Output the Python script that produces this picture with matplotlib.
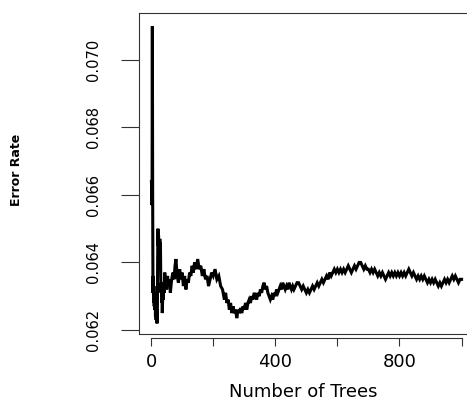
import matplotlib
matplotlib.use("Agg")
import matplotlib.pyplot as plt

# error rate vs number of trees
trees = [1, 2, 3, 4, 5, 6, 7, 8, 9, 10, 11, 12, 13, 14, 15, 16, 17, 18, 19, 20,
         21, 22, 23, 24, 25, 26, 27, 28, 29, 30, 31, 32, 33, 34, 35, 36, 37, 38, 39, 40,
         42, 44, 46, 48, 50, 53, 56, 59, 62, 65, 68, 71, 74, 77, 80, 84, 88, 92, 96, 100,
         104, 108, 112, 116, 120, 124, 128, 132, 136, 140, 145, 150, 155, 160, 165, 170,
         175, 180, 185, 190, 195, 200, 206, 212, 218, 224, 230, 236, 240, 244, 248, 252,
         256, 260, 264, 268, 272, 276, 280, 284, 288, 292, 296, 300, 304, 308, 312, 316,
         320, 324, 328, 332, 336, 340, 344, 348, 352, 356, 360, 364, 368, 372, 376, 380,
         384, 388, 392, 396, 400, 404, 408, 412, 416, 420, 424, 428, 432, 436, 440, 444,
         448, 452, 456, 460, 465, 470, 475, 480, 485, 490, 495, 500, 505, 510, 515, 520,
         525, 530, 535, 540, 545, 550, 555, 560, 565, 570, 575, 580, 585, 590, 595, 600,
         605, 610, 615, 620, 625, 630, 635, 640, 645, 650, 655, 660, 665, 670, 675, 680,
         685, 690, 695, 700, 705, 710, 715, 720, 725, 730, 735, 740, 745, 750, 755, 760,
         765, 770, 775, 780, 785, 790, 795, 800, 805, 810, 815, 820, 825, 830, 835, 840,
         845, 850, 855, 860, 865, 870, 875, 880, 885, 890, 895, 900, 905, 910, 915, 920,
         925, 930, 935, 940, 945, 950, 955, 960, 965, 970, 975, 980, 985, 990, 995, 1000]

err = [0.0664, 0.0661, 0.0657, 0.0710, 0.0660, 0.0631, 0.0636, 0.0628, 0.0633, 0.0627,
       0.0631, 0.0626, 0.0630, 0.0624, 0.0628, 0.0623, 0.0627, 0.0622, 0.0626, 0.0622,
       0.0640, 0.0650, 0.0645, 0.0648, 0.0638, 0.0646, 0.0640, 0.0647, 0.0642, 0.0646,
       0.0636, 0.0631, 0.0634, 0.0628, 0.0630, 0.0625, 0.0628, 0.0632, 0.0629, 0.0634,
       0.0631, 0.0637, 0.0633, 0.0635, 0.0632, 0.0636, 0.0633, 0.0635, 0.0631, 0.0634,
       0.0636, 0.0637, 0.0635, 0.0639, 0.0641, 0.0636, 0.0634, 0.0638, 0.0635, 0.0637,
       0.0633, 0.0636, 0.0632, 0.0635, 0.0634, 0.0637, 0.0636, 0.0639, 0.0637, 0.0640,
       0.0638, 0.0641, 0.0638, 0.0639, 0.0636, 0.0638, 0.0635, 0.0636, 0.0633, 0.0635,
       0.0637, 0.0636, 0.0638, 0.0635, 0.0636, 0.0633, 0.0632, 0.0629, 0.0631, 0.0628,
       0.0629, 0.0626, 0.0628, 0.0625, 0.0627, 0.0625, 0.0626, 0.06235, 0.0626, 0.0625,
       0.06265, 0.0625, 0.0627, 0.0626, 0.0628, 0.0626, 0.0628, 0.0629, 0.0628, 0.0630,
       0.0629, 0.0631, 0.0630, 0.0629, 0.0631, 0.0630, 0.0632, 0.0631, 0.0633, 0.0634,
       0.0632, 0.0633, 0.0631, 0.0630, 0.0629, 0.0630, 0.0629, 0.0631, 0.0630, 0.0632,
       0.0631, 0.0632, 0.0633, 0.0632, 0.0634, 0.0633, 0.0632, 0.0633, 0.0632, 0.0634,
       0.0633, 0.0632, 0.0633, 0.0632, 0.0633, 0.0634, 0.0634, 0.0633, 0.0632, 0.0633,
       0.0632, 0.0631, 0.0632, 0.0631, 0.0632, 0.0633, 0.0632, 0.0633, 0.0634, 0.0633,
       0.0634, 0.0635, 0.0634, 0.0635, 0.0636, 0.0635, 0.0637, 0.0636, 0.0637, 0.0638,
       0.0637, 0.0638, 0.0637, 0.0638, 0.0637, 0.0638, 0.0637, 0.0638, 0.0639, 0.0638,
       0.0637, 0.0638, 0.0639, 0.0638, 0.0639, 0.0640, 0.0640, 0.0639, 0.0638, 0.0639,
       0.0638, 0.0638, 0.0637, 0.0638, 0.0637, 0.0638, 0.0637, 0.0636, 0.0637, 0.0636,
       0.0637, 0.0636, 0.0635, 0.0636, 0.0637, 0.0636, 0.0637, 0.0636, 0.0637, 0.0636,
       0.0637, 0.0636, 0.0637, 0.0636, 0.0637, 0.0636, 0.0637, 0.0638, 0.0637, 0.0636,
       0.0637, 0.0636, 0.0635, 0.0636, 0.0635, 0.0636, 0.0635, 0.0636, 0.0635, 0.0634,
       0.0635, 0.0634, 0.0635, 0.0634, 0.0635, 0.0634, 0.0633, 0.0634, 0.0633, 0.0634,
       0.0635, 0.0634, 0.0635, 0.0634, 0.0635, 0.0636, 0.0635, 0.0636, 0.0635, 0.0634,
       0.0635, 0.0635]

xticks = [0, 200, 400, 600, 800, 1000]
xticklabels = ["0", "", "400", "", "800", ""]
yticks = [0.062, 0.064, 0.066, 0.068, 0.070]
yticklabels = ["0.062", "0.064", "0.066", "0.068", "0.070"]

W, H = 467, 401
fig = plt.figure(figsize=(W / 100, H / 100), dpi=100)
fig.patch.set_facecolor("white")

# axes box (right edge runs slightly past the image, as in the original)
left, right, top, bottom = 139, 474, 13, 334
ax = fig.add_axes([left / W, 1 - bottom / H, (right - left) / W, (bottom - top) / H])

ax.plot(trees, err, color="black", linewidth=2.2, solid_joinstyle="miter")

ax.set_xlim(-39, 1040)
ax.set_ylim(0.06188, 0.07139)

for s in ax.spines.values():
    s.set_color("#333333")
    s.set_linewidth(0.8)

# R style detached x axis line under the box
ax.spines["bottom"].set_position(("outward", 3))
ax.spines["bottom"].set_bounds(0, 1000)
ax.axhline(0.06188, color="#333333", linewidth=0.8, clip_on=False)

ax.set_xticks(xticks)
ax.set_xticklabels(xticklabels, fontsize=13, family="DejaVu Sans")
ax.tick_params(axis="x", length=6, width=0.8, color="#333333", pad=5)

ax.set_yticks(yticks)
ax.set_yticklabels(yticklabels, fontsize=10.5, family="DejaVu Sans",
                   rotation=90, va="center", ha="center")
ax.tick_params(axis="y", length=13, width=0.8, color="#333333", pad=20)

fig.text(303 / W, 1 - 392 / H, "Number of Trees", fontsize=13,
         family="DejaVu Sans", ha="center", va="center")
fig.text(17 / W, 1 - 170 / H, "Error Rate", fontsize=9, fontweight="bold",
         family="DejaVu Sans", rotation=90, ha="center", va="center")

fig.savefig("out.png", dpi=100)
